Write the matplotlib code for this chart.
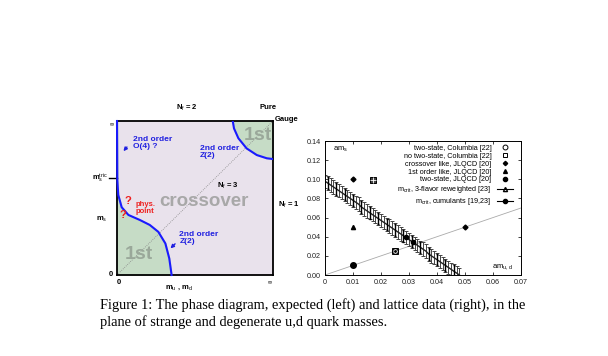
import matplotlib
matplotlib.use("Agg")
import matplotlib.pyplot as plt
from matplotlib.lines import Line2D

plt.rcParams['font.family'] = ['Liberation Sans', 'DejaVu Sans']
plt.rcParams['mathtext.fontset'] = 'custom'
plt.rcParams['mathtext.rm'] = 'Liberation Sans'
plt.rcParams['mathtext.it'] = 'Liberation Sans'
plt.rcParams['mathtext.bf'] = 'Liberation Sans:bold'

# ---------------- left panel (schematic) data ----------------
lower_curve_x = [0.0, 0.002, 0.008, 0.03, 0.073, 0.147, 0.21, 0.265, 0.31, 0.335, 0.35]
lower_curve_y = [1.0, 0.617, 0.52, 0.44, 0.39, 0.357, 0.325, 0.28, 0.205, 0.108, 0.0]
upper_curve_x = [0.742, 0.75, 0.778, 0.831, 0.896, 0.96, 1.0]
upper_curve_y = [1.0, 0.952, 0.888, 0.822, 0.779, 0.758, 0.753]
diag_x = [0.0, 1.0]
diag_y = [0.0, 1.0]

# ---------------- right panel (lattice data) ----------------
line_x = [0.0, 0.07]
line_y = [0.0, 0.07]
columbia_two_x = [0.025]
columbia_two_y = [0.025]
columbia_no_x = [0.025]
columbia_no_y = [0.025]
cross_x = [0.01, 0.05]
cross_y = [0.10, 0.05]
first_x = [0.01]
first_y = [0.05]
jl_two_x = [0.01]
jl_two_y = [0.01]
boxstar_x = [0.017]
boxstar_y = [0.099]
rew_x = [0.000, 0.001, 0.002, 0.003, 0.004, 0.005, 0.006, 0.007, 0.008, 0.009,
         0.010, 0.011, 0.012, 0.013, 0.014, 0.015, 0.016, 0.017, 0.018, 0.019,
         0.020, 0.021, 0.022, 0.023, 0.024, 0.025, 0.026, 0.027, 0.028, 0.029,
         0.030, 0.031, 0.032, 0.033, 0.034, 0.035, 0.036, 0.037, 0.038, 0.039,
         0.040, 0.041, 0.042, 0.043, 0.044, 0.045, 0.046, 0.047, 0.048]
rew_y = [0.098, 0.096, 0.094, 0.092, 0.090, 0.088, 0.086, 0.084, 0.082, 0.080,
         0.078, 0.076, 0.074, 0.071, 0.069, 0.067, 0.065, 0.063, 0.061, 0.059,
         0.057, 0.055, 0.053, 0.051, 0.049, 0.047, 0.045, 0.043, 0.041, 0.039,
         0.037, 0.035, 0.033, 0.031, 0.029, 0.027, 0.025, 0.022, 0.020, 0.018,
         0.016, 0.014, 0.012, 0.010, 0.008, 0.006, 0.004, 0.002, 0.000]
rew_err = 0.007
cum_x = [0.001, 0.004, 0.007, 0.010, 0.013, 0.016, 0.019, 0.022, 0.025, 0.028,
         0.031, 0.034, 0.037, 0.040, 0.043, 0.046]
cum_y = [0.096, 0.090, 0.084, 0.078, 0.071, 0.065, 0.059, 0.053, 0.047, 0.041,
         0.035, 0.029, 0.022, 0.016, 0.010, 0.004]
cum_err = 0.006
mcrit_pts_x = [0.029, 0.0315]
mcrit_pts_y = [0.040, 0.034]
xticks = [0, 0.01, 0.02, 0.03, 0.04, 0.05, 0.06, 0.07]
xticklabels = ['0', '0.01', '0.02', '0.03', '0.04', '0.05', '0.06', '0.07']
yticks = [0.0, 0.02, 0.04, 0.06, 0.08, 0.10, 0.12, 0.14]
yticklabels = ['0.00', '0.02', '0.04', '0.06', '0.08', '0.10', '0.12', '0.14']
legend_labels = ['two-state, Columbia [22]', 'no two-state, Columbia [22]',
                 'crossover like, JLQCD [20]', '1st order like, JLQCD [20]',
                 'two-state, JLQCD [20]', r'm$_{\rm crit}$, 3-flavor reweighted [23]',
                 r'm$_{\rm crit}$, cumulants [19,23]']

caption1 = "Figure 1: The phase diagram, expected (left) and lattice data (right), in the"
caption2 = "plane of strange and degenerate u,d quark masses."

fig = plt.figure(figsize=(6.08, 3.56), dpi=100)

# ---------------- left panel ----------------
axL = fig.add_axes([117/608, 1-275/356, 156/608, 154/356])
axL.set_xlim(0, 1)
axL.set_ylim(0, 1)
axL.set_xticks([])
axL.set_yticks([])
axL.set_facecolor('#e9e2ec')
for s in axL.spines.values():
    s.set_linewidth(1.3)
green = '#c6dcc6'
axL.fill_betweenx(lower_curve_y, 0, lower_curve_x, color=green, zorder=1)
axL.fill_between(upper_curve_x, upper_curve_y, 1, color=green, zorder=1)
axL.plot(diag_x, diag_y, color='#888888', lw=0.6, ls=(0, (1, 1.5)), zorder=2)
axL.plot(lower_curve_x, lower_curve_y, color='#1a1aff', lw=1.5, zorder=3, clip_on=False)
axL.plot(upper_curve_x, upper_curve_y, color='#1a1aff', lw=1.5, zorder=3)

blue = '#2020e0'
axL.text(0.555, 0.48, 'crossover', ha='center', va='center', fontsize=13.5,
         fontweight='bold', color='#a8a8a8')
axL.text(0.14, 0.13, '1st', ha='center', va='center', fontsize=14,
         fontweight='bold', color='#9aa89a')
axL.text(0.90, 0.905, '1st', ha='center', va='center', fontsize=14,
         fontweight='bold', color='#9aa89a')
axL.text(0.10, 0.86, '2nd order\nO(4) ?', ha='left', va='center', fontsize=6,
         fontweight='bold', color=blue, linespacing=1.0)
axL.text(0.53, 0.80, '2nd order\nZ(2)', ha='left', va='center', fontsize=6,
         fontweight='bold', color=blue, linespacing=1.0)
axL.text(0.40, 0.24, '2nd order\nZ(2)', ha='left', va='center', fontsize=6,
         fontweight='bold', color=blue, linespacing=1.0)
axL.annotate('', xy=(0.03, 0.79), xytext=(0.075, 0.845),
             arrowprops=dict(arrowstyle='-|>', color=blue, lw=1.0, mutation_scale=5))
axL.annotate('', xy=(0.33, 0.16), xytext=(0.385, 0.215),
             arrowprops=dict(arrowstyle='-|>', color=blue, lw=1.0, mutation_scale=5))
axL.text(0.71, 0.58, r'N$_{\rm f}$ = 3', ha='center', va='center', fontsize=5.5,
         fontweight='bold')
axL.text(0.07, 0.48, '?', ha='center', va='center', fontsize=8, fontweight='bold', color='#ee2020')
axL.text(0.04, 0.39, '?', ha='center', va='center', fontsize=8, fontweight='bold', color='#ee2020')
axL.text(0.12, 0.435, 'phys.\npoint', ha='left', va='center', fontsize=5.5,
         fontweight='bold', color='#ee2020', linespacing=1.0)
axL.text(0.45, 1.085, r'N$_{\rm f}$ = 2', ha='center', va='center', fontsize=5.5,
         fontweight='bold', transform=axL.transAxes)
axL.text(0.97, 1.085, 'Pure', ha='center', va='center', fontsize=5.5,
         fontweight='bold', transform=axL.transAxes)
axL.text(1.01, 1.01, 'Gauge', ha='left', va='center', fontsize=5.5,
         fontweight='bold', transform=axL.transAxes)
axL.text(1.03, 0.455, r'N$_{\rm f}$ = 1', ha='left', va='center', fontsize=5.5,
         fontweight='bold', transform=axL.transAxes)
axL.text(0.40, -0.08, r'm$_{\rm u}$ , m$_{\rm d}$', ha='center', va='center',
         fontsize=5.5, fontweight='bold', transform=axL.transAxes)
axL.text(-0.04, 0.0, '0', ha='center', va='center', fontsize=5.5, fontweight='bold',
         transform=axL.transAxes)
axL.text(0.015, -0.05, '0', ha='center', va='center', fontsize=5.5, fontweight='bold',
         transform=axL.transAxes)
axL.text(-0.035, 0.975, r'$\infty$', ha='center', va='center', fontsize=4,
         transform=axL.transAxes)
axL.text(0.98, -0.05, r'$\infty$', ha='center', va='center', fontsize=4,
         transform=axL.transAxes)
axL.text(-0.06, 0.63, r'm$_{\rm s}^{\rm tric}$', ha='right', va='center', fontsize=5.5,
         fontweight='bold', transform=axL.transAxes)
axL.plot([-0.05, 0.0], [0.63, 0.63], color='black', lw=1.0, transform=axL.transAxes,
         clip_on=False)
axL.text(-0.06, 0.36, r'm$_{\rm s}$', ha='right', va='center', fontsize=5.5,
         fontweight='bold', transform=axL.transAxes)

# ---------------- right panel ----------------
axR = fig.add_axes([325/608, 1-275/356, 196/608, 134/356])
axR.set_xlim(0, 0.07)
axR.set_ylim(0, 0.14)
axR.set_xticks(xticks)
axR.set_xticklabels(xticklabels)
axR.set_yticks(yticks)
axR.set_yticklabels(yticklabels)
axR.tick_params(direction='in', length=2.5, width=0.6, labelsize=5.2, top=True,
                right=True, pad=3, colors='#222222')
for s in axR.spines.values():
    s.set_linewidth(0.7)

axR.plot(line_x, line_y, color='#aaaaaa', lw=0.6, zorder=1)
axR.errorbar(rew_x, rew_y, yerr=rew_err, fmt='none', ecolor='#444444', elinewidth=0.7,
             capsize=1.2, capthick=0.7, zorder=2)
axR.plot(rew_x, rew_y, color='#222222', lw=1.0, zorder=2)
axR.errorbar(cum_x, cum_y, yerr=cum_err, fmt='none', ecolor='black', elinewidth=1.0,
             capsize=1.0, capthick=1.0, zorder=3)
axR.plot(mcrit_pts_x, mcrit_pts_y, 'o', color='black', ms=3, zorder=4)
axR.plot(columbia_two_x, columbia_two_y, 'o', mfc='none', mec='black', ms=4, mew=0.7, zorder=4)
axR.plot(columbia_no_x, columbia_no_y, 's', mfc='none', mec='black', ms=4, mew=0.7, zorder=4)
axR.plot(columbia_two_x, columbia_two_y, '.', color='black', ms=2, zorder=4)
axR.plot(cross_x, cross_y, 'D', color='black', ms=2.5, zorder=4)
axR.plot(first_x, first_y, '^', color='black', ms=3, zorder=4)
axR.plot(jl_two_x, jl_two_y, 'o', color='black', ms=4, zorder=4)
axR.plot(boxstar_x, boxstar_y, 's', mfc='#444444', mec='black', ms=5, mew=0.7, zorder=4)
axR.plot(boxstar_x, boxstar_y, '+', color='white', ms=4, mew=0.6, zorder=5)

axR.text(0.003, 0.131, r'am$_{\rm s}$', fontsize=5.5, ha='left', va='center')
axR.text(0.0595, 0.008, r'am$_{\rm u,d}$', fontsize=5.5, ha='left', va='center')

handles = [
    Line2D([], [], ls='none', marker='o', mfc='none', mec='black', ms=3.5, mew=0.7),
    Line2D([], [], ls='none', marker='s', mfc='none', mec='black', ms=3.5, mew=0.7),
    Line2D([], [], ls='none', marker='D', color='black', ms=2.2),
    Line2D([], [], ls='none', marker='^', color='black', ms=2.8),
    Line2D([], [], ls='none', marker='o', color='black', ms=3),
    Line2D([], [], ls='-', lw=0.8, marker='^', mfc='none', mec='black', color='black', ms=3),
    Line2D([], [], ls='-', lw=0.8, marker='o', color='black', ms=3),
]
leg = axR.legend(handles, legend_labels, loc='upper right', frameon=False,
                 markerfirst=False, fontsize=5.2, handlelength=2.2, handletextpad=0.8,
                 labelspacing=0.12, borderaxespad=0.3, bbox_to_anchor=(0.985, 1.01))

# ---------------- caption ----------------
fig.text(100/608, 1-305/356, caption1, fontsize=10.4, family='Liberation Serif',
         ha='left', va='center')
fig.text(100/608, 1-322/356, caption2, fontsize=10.4, family='Liberation Serif',
         ha='left', va='center')

fig.savefig('out.png', dpi=100)
